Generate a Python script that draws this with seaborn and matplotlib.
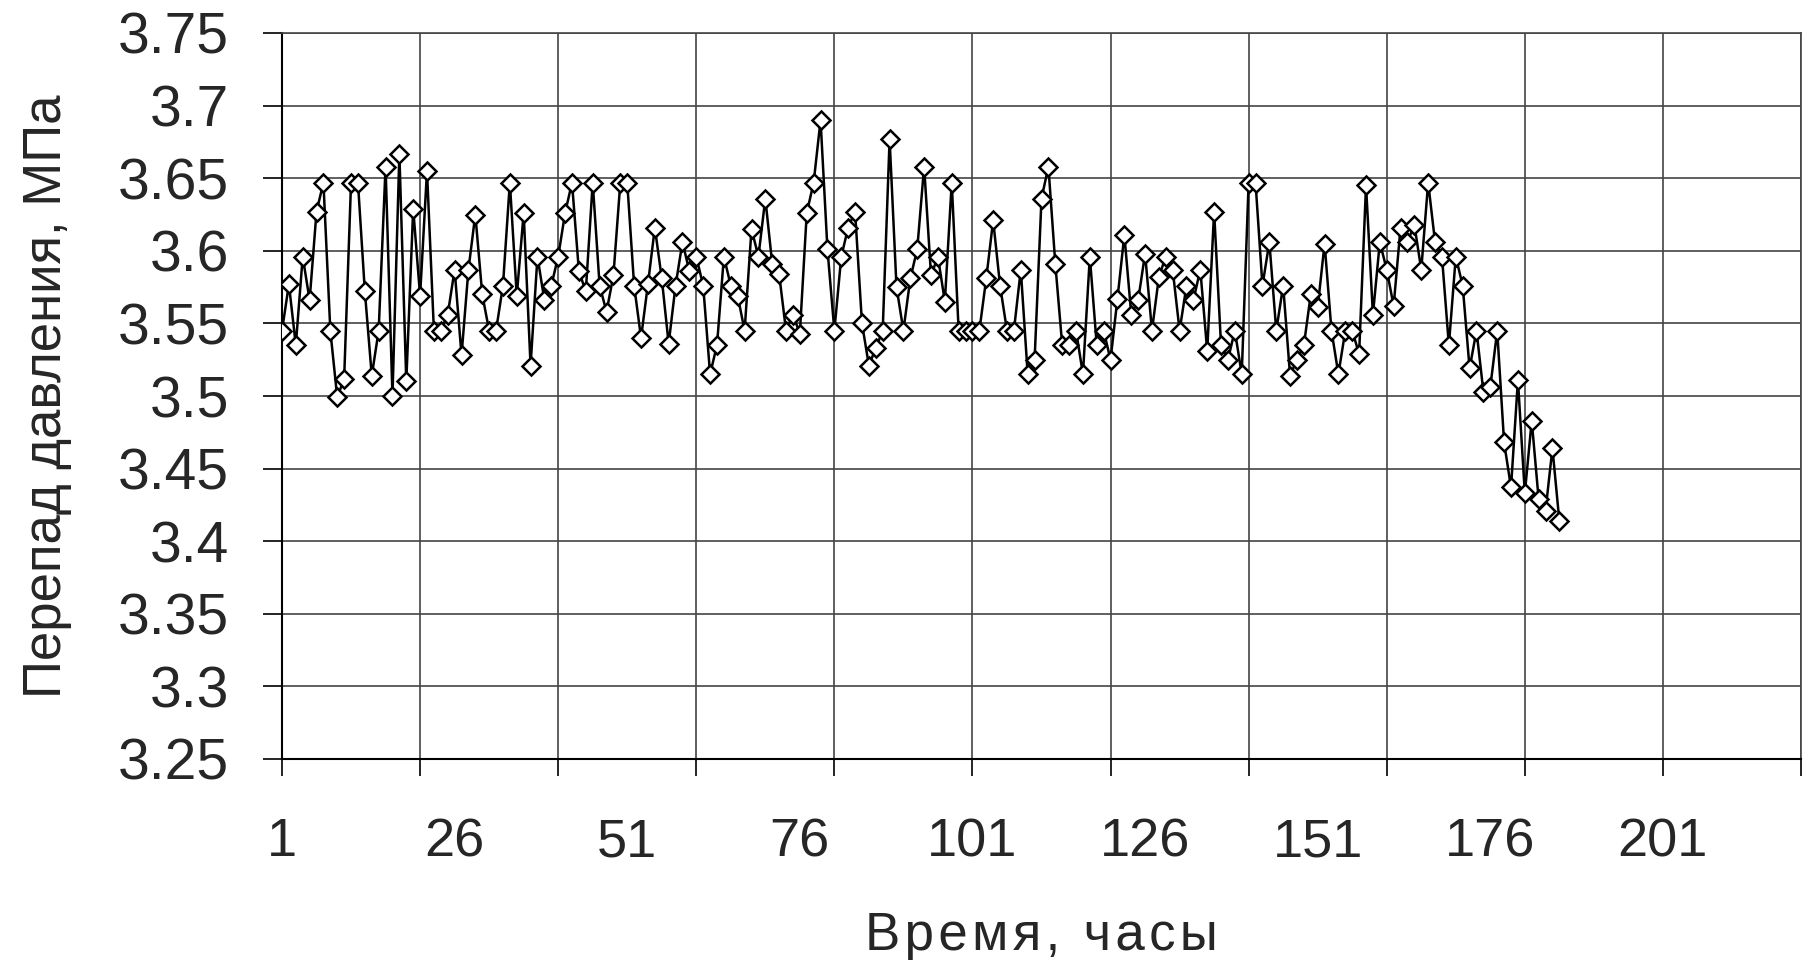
import numpy as np
import matplotlib
matplotlib.use("Agg")
import matplotlib.pyplot as plt
import seaborn as sns
from matplotlib.ticker import FixedLocator, NullFormatter

# hourly pressure drop readings, MPa
hours = np.arange(1, 187)
pressure_drop = [
    3.545, 3.577, 3.535, 3.596, 3.566, 3.627, 3.647, 3.545, 3.499, 3.512,
    3.647, 3.647, 3.572, 3.514, 3.545, 3.658, 3.500, 3.667, 3.510, 3.629,
    3.569, 3.655, 3.545, 3.545, 3.556, 3.587, 3.528, 3.587, 3.625, 3.570,
    3.545, 3.545, 3.576, 3.647, 3.569, 3.626, 3.521, 3.596, 3.566, 3.576,
    3.596, 3.626, 3.647, 3.586, 3.572, 3.647, 3.576, 3.558, 3.583, 3.647,
    3.647, 3.576, 3.540, 3.577, 3.616, 3.581, 3.536, 3.576, 3.606, 3.586,
    3.596, 3.576, 3.515, 3.535, 3.596, 3.576, 3.569, 3.545, 3.615, 3.596,
    3.636, 3.591, 3.584, 3.545, 3.556, 3.543, 3.626, 3.647, 3.690, 3.601,
    3.545, 3.596, 3.616, 3.627, 3.550, 3.521, 3.533, 3.545, 3.677, 3.575,
    3.545, 3.581, 3.601, 3.658, 3.583, 3.596, 3.565, 3.647, 3.545, 3.545,
    3.545, 3.545, 3.581, 3.621, 3.576, 3.545, 3.545, 3.587, 3.515, 3.525,
    3.636, 3.658, 3.591, 3.535, 3.535, 3.545, 3.515, 3.596, 3.535, 3.545,
    3.525, 3.567, 3.611, 3.556, 3.566, 3.598, 3.545, 3.582, 3.596, 3.587,
    3.545, 3.576, 3.566, 3.587, 3.531, 3.627, 3.535, 3.525, 3.545, 3.515,
    3.647, 3.647, 3.576, 3.606, 3.545, 3.576, 3.514, 3.525, 3.535, 3.570,
    3.561, 3.605, 3.545, 3.515, 3.545, 3.545, 3.529, 3.645, 3.556, 3.606,
    3.587, 3.562, 3.616, 3.606, 3.618, 3.587, 3.647, 3.606, 3.596, 3.535,
    3.596, 3.576, 3.519, 3.545, 3.503, 3.506, 3.545, 3.468, 3.437, 3.511,
    3.433, 3.483, 3.429, 3.421, 3.464, 3.414,
]

# axis settings
grid_x = np.arange(1, 222, 20)
label_x = [1, 26, 51, 76, 101, 126, 151, 176, 201]
y_ticks = [3.25, 3.3, 3.35, 3.4, 3.45, 3.5, 3.55, 3.6, 3.65, 3.7, 3.75]

x_title = "\u200a".join("Время, часы")
y_title = "Перепад давления, МПа"


def make_chart():
    sns.set_style("white")
    plt.rcParams["font.family"] = ["Liberation Sans", "DejaVu Sans"]

    fig = plt.figure(figsize=(18.07, 9.6), dpi=100)
    ax = fig.add_axes([282 / 1807, 1 - 759 / 960, 1519 / 1807, 726 / 960])

    sns.lineplot(x=hours, y=pressure_drop, ax=ax, color="black", linewidth=1.8,
                 marker="D", markersize=9, markerfacecolor="white",
                 markeredgecolor="black", markeredgewidth=1.8,
                 estimator=None, zorder=3)

    ax.set_xlim(1, 221)
    ax.set_ylim(3.25, 3.75)

    # gridlines every 20 hours, labels every 25 hours
    ax.xaxis.remove_overlapping_locs = False
    ax.xaxis.set_major_locator(FixedLocator(grid_x))
    ax.xaxis.set_major_formatter(NullFormatter())
    ax.set_xticks(label_x, [str(v) for v in label_x], minor=True)
    ax.tick_params(axis="x", which="major", direction="out", length=12,
                   width=1.2, color="black", bottom=True)
    ax.tick_params(axis="x", which="minor", length=0, pad=42, labelsize=39)

    ax.set_yticks(y_ticks, [f"{v:g}" for v in y_ticks])
    ax.tick_params(axis="y", direction="out", length=14, width=1.2,
                   color="black", left=True, pad=24, labelsize=41)

    ax.grid(True, which="major", color="#444444", linewidth=1.2)
    ax.grid(False, which="minor")

    for side in ["left", "bottom"]:
        ax.spines[side].set_color("black")
        ax.spines[side].set_linewidth(1.5)
    for side in ["top", "right"]:
        ax.spines[side].set_color("#444444")
        ax.spines[side].set_linewidth(1.2)

    ax.set_xlabel(x_title, fontsize=38, va="top")
    ax.xaxis.set_label_coords(0.5, -0.21)
    ax.set_ylabel(y_title, fontsize=38)
    ax.yaxis.set_label_coords(-0.138, 0.5)

    fig.savefig("out.png", dpi=100, facecolor="white")
    plt.close(fig)
    print("Saved out.png")


if __name__ == "__main__":
    make_chart()
